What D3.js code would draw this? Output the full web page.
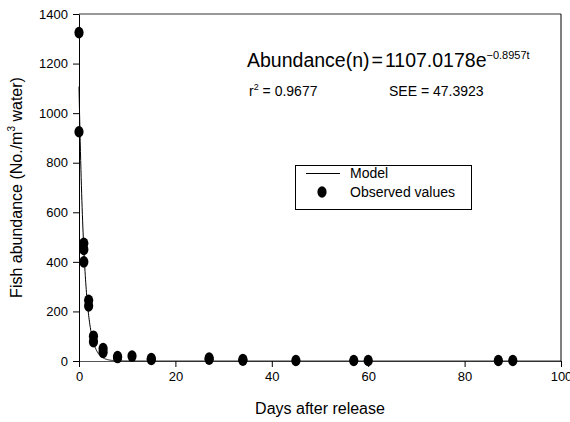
<!DOCTYPE html>
<html>
<head>
<meta charset="utf-8">
<script src="https://cdn.jsdelivr.net/npm/d3@7"></script>
<style>
  body { margin: 0; background: #fff; }
  text { font-family: Arial, "Liberation Sans", sans-serif; fill: #000; }
</style>
</head>
<body>
<svg id="chart"></svg>
<script>
// observed values: day after release and abundance (replicates share a day)
const obsDays = [0, 0, 1, 1, 1, 2, 2, 3, 3, 5, 5, 8, 8, 11, 15, 15, 27, 27, 34, 34, 45, 57, 60, 87, 90];
const obsValues = [1325, 925, 475, 450, 400, 245, 222, 100, 78, 50, 35, 18, 14, 20, 10, 6, 12, 7, 6, 3, 2, 2, 2, 2, 2];

// model parameters as printed on the chart
const modelA = 1107.0178;
const modelK = 0.8957;
const modelDays = d3.range(0, 100.01, 0.05);

const xTicks = [0, 20, 40, 60, 80, 100];
const yTicks = [0, 200, 400, 600, 800, 1000, 1200, 1400];

const width = 570, height = 422;
const margin = { top: 14, right: 9, bottom: 61, left: 79 };

const svg = d3.select("#chart").attr("width", width).attr("height", height);

const x = d3.scaleLinear().domain([0, 100]).range([margin.left, width - margin.right]);
const y = d3.scaleLinear().domain([0, 1400]).range([height - margin.bottom, margin.top]);

// frame (top and right)
svg.append("line")
    .attr("x1", x(0)).attr("x2", x(100))
    .attr("y1", y(1400)).attr("y2", y(1400))
    .attr("stroke", "#777").attr("stroke-width", 1.3);
svg.append("line")
    .attr("x1", x(100)).attr("x2", x(100))
    .attr("y1", y(1400)).attr("y2", y(0))
    .attr("stroke", "#000").attr("stroke-width", 1);

// axes
const xAxis = d3.axisBottom(x).tickValues(xTicks).tickFormat(d3.format("d"))
    .tickSize(6).tickSizeOuter(0).tickPadding(5);
const yAxis = d3.axisLeft(y).tickValues(yTicks).tickFormat(d3.format("d"))
    .tickSize(6).tickSizeOuter(0).tickPadding(5);

const gx = svg.append("g").attr("transform", `translate(0,${y(0)})`).call(xAxis);
const gy = svg.append("g").attr("transform", `translate(${x(0)},0)`).call(yAxis);
[gx, gy].forEach(g => {
    g.select(".domain").attr("stroke", "#000");
    g.selectAll(".tick line").attr("stroke", "#000");
    g.selectAll(".tick text")
        .attr("font-family", "Arial, 'Liberation Sans', sans-serif")
        .attr("font-size", 13).attr("fill", "#000");
});
gx.select(".domain").attr("stroke", "#555");

// model curve
const line = d3.line()
    .x(d => x(d))
    .y(d => y(modelA * Math.exp(-modelK * d)))
    .curve(d3.curveLinear);
svg.append("path")
    .datum(modelDays)
    .attr("d", line)
    .attr("fill", "none")
    .attr("stroke", "#000")
    .attr("stroke-width", 1);

// observed points
svg.append("g").selectAll("ellipse")
    .data(obsDays)
    .enter()
    .append("ellipse")
    .attr("cx", d => x(d))
    .attr("cy", (d, i) => y(obsValues[i]))
    .attr("rx", 4.6)
    .attr("ry", 5.8)
    .attr("fill", "#000");

// axis titles
svg.append("text")
    .attr("x", x(50))
    .attr("y", 414)
    .attr("text-anchor", "middle")
    .attr("font-size", 16)
    .text("Days after release");

const yt = svg.append("text")
    .attr("transform", `translate(22,${y(700)}) rotate(-90)`)
    .attr("text-anchor", "middle")
    .attr("font-size", 16);
yt.append("tspan").text("Fish abundance (No./m");
yt.append("tspan").attr("font-size", 10).attr("dy", -7).text("3");
yt.append("tspan").attr("dy", 7).text(" water)");

// equation
const eq = svg.append("text").attr("x", 247).attr("y", 67).attr("font-size", 19.5);
eq.append("tspan").text("Abundance(n)");
eq.append("tspan").attr("dx", 2).text("=");
eq.append("tspan").attr("dx", 2).text("1107.0178e");
eq.append("tspan").attr("font-size", 11).attr("dy", -8).text("\u22120.8957t");

const r2 = svg.append("text").attr("x", 249).attr("y", 96).attr("font-size", 14);
r2.append("tspan").text("r");
r2.append("tspan").attr("font-size", 9).attr("dy", -6).text("2");
r2.append("tspan").attr("dy", 6).text(" = 0.9677");

svg.append("text").attr("x", 389).attr("y", 96).attr("font-size", 14)
    .text("SEE = 47.3923");

// legend
const lg = svg.append("g");
lg.append("rect")
    .attr("x", 295.5).attr("y", 165.5)
    .attr("width", 176).attr("height", 44)
    .attr("fill", "#fff").attr("stroke", "#000").attr("stroke-width", 1);
lg.append("line")
    .attr("x1", 306).attr("x2", 340)
    .attr("y1", 173.5).attr("y2", 173.5)
    .attr("stroke", "#000").attr("stroke-width", 1);
lg.append("text").attr("x", 350).attr("y", 178).attr("font-size", 14).text("Model");
lg.append("ellipse")
    .attr("cx", 322).attr("cy", 192)
    .attr("rx", 4.6).attr("ry", 5.8)
    .attr("fill", "#000");
lg.append("text").attr("x", 350).attr("y", 197).attr("font-size", 14).text("Observed values");
</script>
</body>
</html>
